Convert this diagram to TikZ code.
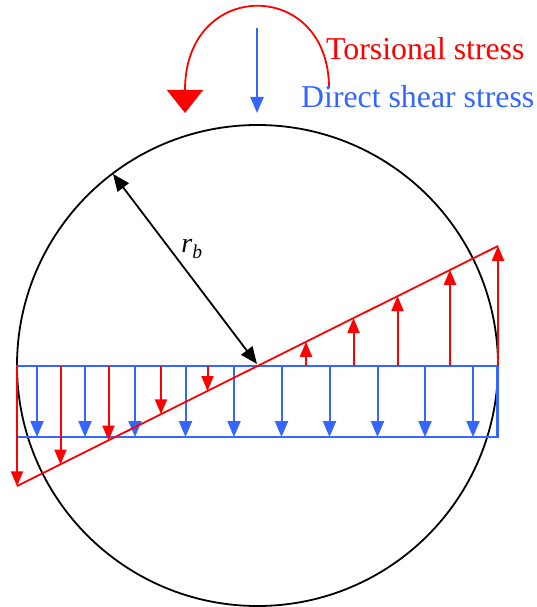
\documentclass[tikz,border=0pt]{standalone}
\usepackage{fontspec}
\setmainfont{Liberation Serif}
\usetikzlibrary{arrows.meta}
\definecolor{sred}{RGB}{255,0,0}
\definecolor{sblue}{RGB}{51,102,255}
\begin{document}
\begin{tikzpicture}[x=1pt,y=-1pt,
  redline/.style={draw=sred,line width=1.8pt},
  blueline/.style={draw=sblue,line width=2.2pt},
  redarrow/.style={draw=sred,line width=2pt,-{Triangle[length=15pt,width=12pt]}},
  bluearrow/.style={draw=sblue,line width=2pt,-{Triangle[length=16pt,width=13pt]}},
  lbl/.style={inner sep=0pt,font=\fontsize{31.8}{32}\selectfont}]
\useasboundingbox (0,0) rectangle (536,607);
% circle
\coordinate (C) at (257.5,365.5);
\draw[line width=1.8pt] (C) circle[radius=240.5pt];
% blue rectangle
\draw[blueline] (17,366) rectangle (497.5,437);
% blue arrows
\foreach \x in {37,85,135,185.5,234,281.5,329.5,377.5,425,473}
  \draw[bluearrow] (\x,366) -- (\x,437);
% red line
\coordinate (L) at (17,486);
\coordinate (R) at (498,246);
\draw[redline] (L) -- (R);
% red arrows left (down)
\foreach \x in {17,60.5,108.5,161,207.5}
  \draw[redarrow] (\x,366) -- (\x,{366+0.5*(257.5-\x)});
% red arrows right (up)
\foreach \x in {306,353.5,397.5,450,498}
  \draw[redarrow] (\x,366) -- (\x,{366-0.5*(\x-257.5)});
% radius arrow
\coordinate (P) at (113,174);
\coordinate (Q) at (257,364);
\draw[line width=1.8pt,{Triangle[length=17pt,width=14pt]}-{Triangle[length=17pt,width=14pt]}] (P) -- (Q);
\node[inner sep=0pt,font=\fontsize{28}{28}\selectfont\itshape] (rb) at (192,249) {r\textsubscript{b}};
% top arrows
\coordinate (T1) at (257,28);
\coordinate (T2) at (257,113);
\draw[bluearrow] (T1) -- (T2);
\coordinate (A1) at (329,88);
\coordinate (A2) at (185,113);
\draw[redline,-{Triangle[length=23pt,width=36pt]}] (A1) .. controls (329,-22) and (185,-22) .. (185,90) -- (A2);
% labels
\node[lbl,text=sred,anchor=base west] (ts) at (326,60) {Torsional stress};
\node[lbl,text=sblue,anchor=base west] (ds) at (301,108) {Direct shear stress};
\end{tikzpicture}
\end{document}
